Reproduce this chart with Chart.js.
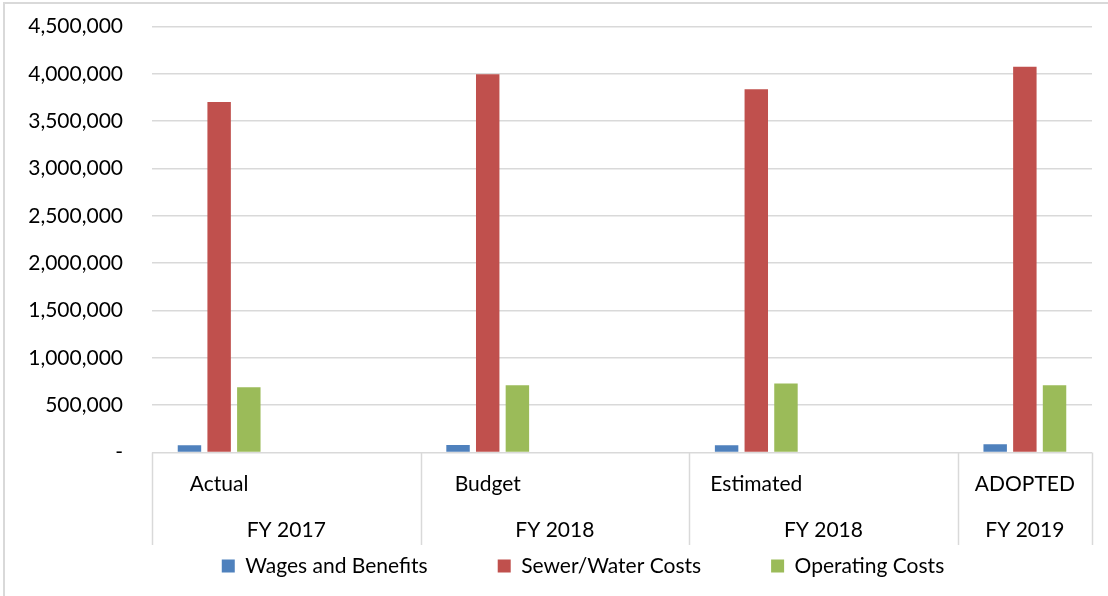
<!DOCTYPE html>
<html>
<head>
<meta charset="utf-8">
<script src="https://cdn.jsdelivr.net/npm/chart.js@4/dist/chart.umd.min.js"></script>
<style>
  html, body { margin: 0; padding: 0; background: #fff; overflow: hidden; }
  #wrap { position: relative; width: 1108px; height: 596px; }
  #frame { position: absolute; left: 3px; top: 2px; width: 1120px; height: 620px; border: 2px solid #D9D9D9; box-sizing: border-box; pointer-events: none; }
  canvas { position: absolute; left: 0; top: 0; }
</style>
</head>
<body>
<div id="wrap">
  <canvas id="c"></canvas>
  <div id="frame"></div>
</div>
<script>
// ---- data ----
const categories = ['Actual', '', 'Budget', '', 'Estimated', '', 'ADOPTED'];
const groupLabels = ['FY 2017', 'FY 2018', 'FY 2018', 'FY 2019'];
const groupSpans = [2, 2, 2, 1];
const seriesNames = ['Wages and Benefits', 'Sewer/Water Costs', 'Operating Costs'];
const wages = [77000, null, 80000, null, 77000, null, 88000];
const sewer = [3702000, null, 3995000, null, 3836000, null, 4075000];
const operating = [690000, null, 711000, null, 729000, null, 711000];
const yTicks = { min: 0, max: 4500000, step: 500000 };

const FONT = 'Lato, "Liberation Sans", sans-serif';
const colors = ['#4F81BD', '#C0504D', '#9BBB59'];
const GRID = '#D9D9D9';

// multi-level category labels + group separators, placed with the x scale
const groupPlugin = {
  id: 'groupLabels',
  afterLayout(chart) {
    // centre the legend the way the original does
    if (chart.legend) { chart.legend.left = 74; }
  },
  afterDraw(chart) {
    const x = chart.scales.x;
    const ctx = chart.ctx;
    const n = categories.length;
    const cw = (x.right - x.left) / n;
    const top = chart.chartArea.bottom;
    const sepBottom = 545;
    ctx.save();
    ctx.fillStyle = '#000';
    ctx.font = '21px ' + FONT;
    ctx.textAlign = 'center';
    ctx.textBaseline = 'alphabetic';
    categories.forEach((c, i) => {
      if (c) ctx.fillText(c, x.getPixelForValue(i), 491);
    });
    let idx = 0;
    const bounds = [x.getPixelForValue(0) - cw / 2];
    groupSpans.forEach((span, g) => {
      const start = x.getPixelForValue(idx) - cw / 2;
      const end = x.getPixelForValue(idx + span - 1) + cw / 2;
      bounds.push(end);
      ctx.fillText(groupLabels[g], (start + end) / 2, 537);
      idx += span;
    });
    ctx.strokeStyle = GRID;
    ctx.lineWidth = 1.5;
    bounds.forEach(b => {
      ctx.beginPath();
      ctx.moveTo(Math.round(b) + 0.5, top);
      ctx.lineTo(Math.round(b) + 0.5, sepBottom);
      ctx.stroke();
    });
    ctx.restore();
  }
};

const datasets = [wages, sewer, operating].map((d, i) => ({
  label: seriesNames[i],
  data: d,
  backgroundColor: colors[i],
  categoryPercentage: 0.663,
  barPercentage: 0.79
}));

new Chart(document.getElementById('c'), {
  type: 'bar',
  data: { labels: categories, datasets },
  plugins: [groupPlugin],
  options: {
    responsive: true,
    maintainAspectRatio: false,
    animation: false,
    devicePixelRatio: 1,
    layout: { padding: { left: 0, right: 16, top: 26.5, bottom: 9.5 } },
    plugins: {
      tooltip: { enabled: false },
      legend: {
        position: 'bottom',
        labels: {
          boxWidth: 13,
          boxHeight: 13,
          padding: 70,
          color: '#000',
          font: { family: FONT, size: 21 }
        }
      }
    },
    scales: {
      x: {
        grid: { display: false },
        border: { display: false },
        ticks: { display: false },
        afterFit(s) { s.height = 33; }
      },
      y: {
        min: yTicks.min,
        max: yTicks.max,
        border: { display: false },
        grid: { color: GRID, lineWidth: 1.5, drawTicks: true, tickLength: 29, tickColor: 'rgba(0,0,0,0)' },
        ticks: {
          stepSize: yTicks.step,
          padding: 0,
          color: '#000',
          font: { family: FONT, size: 21 },
          callback: v => v === 0 ? '-' : v.toLocaleString('en-US')
        },
        afterFit(s) { s.width = 152; }
      }
    }
  }
});
</script>
</body>
</html>
